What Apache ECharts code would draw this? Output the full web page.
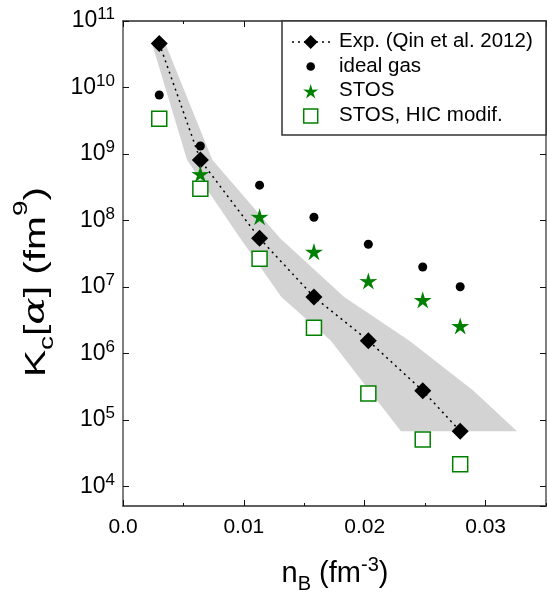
<!DOCTYPE html>
<html>
<head>
<meta charset="utf-8">
<script src="https://cdn.jsdelivr.net/npm/echarts@6/dist/echarts.min.js"></script>
<style>
  html, body { margin: 0; padding: 0; background: #fff; }
  #chart { width: 547px; height: 593px; }
</style>
</head>
<body>
<div id="chart"></div>
<script>
// Baryon density n_B (fm^-3) of each point
const nB = [0.0030, 0.0064, 0.0113, 0.0158, 0.0203, 0.0248, 0.0279];
// Chemical equilibrium constant K_c[alpha] (fm^9)
const kcExp = [4.6e10, 8.1e8, 5.4e7, 7.1e6, 1.56e6, 2.76e5, 6.8e4];
const kcIdeal = [7.7e9, 1.32e9, 3.4e8, 1.12e8, 4.4e7, 2.0e7, 1.01e7];
const nBStos = [0.0064, 0.0113, 0.0158, 0.0203, 0.0248, 0.0279];
const kcStos = [5.0e8, 1.14e8, 3.4e7, 1.23e7, 6.4e6, 2.6e6];
const kcStosHic = [3.4e9, 3.0e8, 2.67e7, 2.44e6, 2.5e5, 5.1e4, 2.16e4];
// Density uncertainty of the experimental points (band edges at each K_c level)
const bandLow = [0.0024, 0.0053, 0.0097, 0.0131, 0.0172, 0.0204, 0.0230];
const bandHigh = [0.0035, 0.0074, 0.0130, 0.0183, 0.0237, 0.0290, 0.0326];
// Axis ticks
const xTicksMajor = 0.01;
const xTicksMinor = 0.005;
const xMin = 0, xMax = 0.035;
const yMin = 5100, yMax = 1e11;

const FONT = 'Liberation Sans, Arial, sans-serif';
const GREEN = '#008000';

const zip = (xs, ys) => xs.map((x, i) => [x, ys[i]]);

// five-pointed star symbol
function starPath(R, r) {
  let d = '';
  for (let i = 0; i < 10; i++) {
    const rad = i % 2 === 0 ? R : r;
    const a = -Math.PI / 2 + i * Math.PI / 5;
    d += (i === 0 ? 'M' : 'L') + (rad * Math.cos(a)).toFixed(3) + ' ' + (rad * Math.sin(a)).toFixed(3) + ' ';
  }
  return d + 'Z';
}
const STAR = 'path://' + starPath(10, 3.6);

const chart = echarts.init(document.getElementById('chart'), null, { renderer: 'canvas' });

const frameLine = { show: true, onZero: false, lineStyle: { color: '#555', width: 1.5 } };

function xAxisDef(position, interval, tickLen, labels) {
  return {
    type: 'value', position: position, min: xMin, max: xMax, interval: interval,
    axisLine: frameLine,
    axisTick: { show: true, inside: true, length: tickLen, lineStyle: { color: '#111', width: 1 } },
    axisLabel: labels ? {
      show: true, showMaxLabel: false, margin: 11, color: '#000', fontSize: 21, fontFamily: FONT,
      formatter: v => (v === 0 ? '0.0' : v.toFixed(2))
    } : { show: false },
    splitLine: { show: false }
  };
}
function yAxisDef(position, labels) {
  return {
    type: 'log', logBase: 10, position: position, min: yMin, max: yMax,
    axisLine: frameLine,
    axisTick: { show: true, inside: true, length: 6, lineStyle: { color: '#111', width: 1 } },
    minorTick: { show: false },
    axisLabel: labels ? {
      show: true, showMinLabel: false, margin: 8, color: '#000', fontFamily: FONT,
      formatter: v => '{b|10}{s|' + Math.round(Math.log10(v)) + '}',
      rich: {
        b: { fontSize: 23, fontFamily: FONT, color: '#000', lineHeight: 30 },
        s: { fontSize: 17, fontFamily: FONT, color: '#000', lineHeight: 14, verticalAlign: 'top' }
      }
    } : { show: false },
    splitLine: { show: false }
  };
}

// legend drawn as a boxed key
const LX = 310.7, LY = [42, 66.5, 91, 116];
const legendText = ['Exp. (Qin et al. 2012)', 'ideal gas', 'STOS', 'STOS, HIC modif.'];
function starPoints(cx, cy, R, r) {
  const p = [];
  for (let i = 0; i < 10; i++) {
    const rad = i % 2 === 0 ? R : r;
    const a = -Math.PI / 2 + i * Math.PI / 5;
    p.push([cx + rad * Math.cos(a), cy + rad * Math.sin(a)]);
  }
  return p;
}
const legendGraphics = [
  { type: 'rect', z: 100, shape: { x: 282, y: 21, width: 264, height: 114 },
    style: { fill: '#fff', stroke: '#333', lineWidth: 1.5 } },
  { type: 'line', z: 101, shape: { x1: 292, y1: LY[0], x2: 330, y2: LY[0] },
    style: { stroke: '#000', lineWidth: 1.5, lineDash: [2, 4] } },
  { type: 'polygon', z: 102, shape: { points: [[LX, LY[0] - 7], [LX + 7, LY[0]], [LX, LY[0] + 7], [LX - 7, LY[0]]] },
    style: { fill: '#000' } },
  { type: 'circle', z: 102, shape: { cx: LX, cy: LY[1], r: 4.3 }, style: { fill: '#000' } },
  { type: 'polygon', z: 102, shape: { points: starPoints(LX, LY[2] + 1, 8, 2.9) }, style: { fill: GREEN } },
  { type: 'rect', z: 102, shape: { x: LX - 7, y: LY[3] - 7, width: 14, height: 14 },
    style: { fill: '#fff', stroke: GREEN, lineWidth: 1.5 } }
];
legendText.forEach((t, i) => legendGraphics.push({
  type: 'text', z: 102, x: 339, y: LY[i] - 11,
  style: { text: t, font: '20.5px ' + FONT, fill: '#000', textVerticalAlign: 'top' }
}));

const option = {
  animation: false,
  backgroundColor: '#fff',
  grid: { left: 123, top: 21, width: 423, height: 485, outerBoundsMode: 'none', containLabel: false },
  xAxis: [
    xAxisDef('bottom', xTicksMajor, 6, true),
    xAxisDef('bottom', xTicksMinor, 3, false),
    xAxisDef('top', xTicksMajor, 6, false),
    xAxisDef('top', xTicksMinor, 3, false)
  ],
  yAxis: [yAxisDef('left', true), yAxisDef('right', false)],
  series: [
    {
      name: 'band', type: 'custom', xAxisIndex: 0, yAxisIndex: 0, z: 1, silent: true,
      data: [[bandLow[0], kcExp[0]]],
      renderItem: (params, api) => {
        const pts = [];
        for (let i = 0; i < kcExp.length; i++) pts.push(api.coord([bandHigh[i], kcExp[i]]));
        for (let i = kcExp.length - 1; i >= 0; i--) pts.push(api.coord([bandLow[i], kcExp[i]]));
        return { type: 'polygon', shape: { points: pts }, style: { fill: '#d3d3d3', stroke: null } };
      }
    },
    {
      name: 'Exp. (Qin et al. 2012)', type: 'line', z: 3,
      data: zip(nB, kcExp),
      symbol: 'diamond', symbolSize: 17,
      lineStyle: { color: '#000', width: 1.5, type: [2, 4] },
      itemStyle: { color: '#000', opacity: 1 }
    },
    {
      name: 'ideal gas', type: 'scatter', z: 4,
      data: zip(nB, kcIdeal), symbol: 'circle', symbolSize: 9,
      itemStyle: { color: '#000', opacity: 1 }
    },
    {
      name: 'STOS', type: 'scatter', z: 5,
      data: zip(nBStos, kcStos), symbol: STAR, symbolSize: 18, symbolKeepAspect: true,
      itemStyle: { color: GREEN, opacity: 1 }
    },
    {
      name: 'STOS, HIC modif.', type: 'scatter', z: 6,
      data: zip(nB, kcStosHic), symbol: 'rect', symbolSize: 15,
      itemStyle: { color: '#fff', borderColor: GREEN, borderWidth: 1.5, opacity: 1 }
    }
  ],
  graphic: [
    ...legendGraphics,
    {
      type: 'text', x: 335, y: 555, z: 50,
      style: {
        text: '{n|n}{sub|B}{n| (fm}{sup|-3}{n|)}',
        textAlign: 'center', textVerticalAlign: 'top',
        rich: {
          n: { fontSize: 29, fontFamily: FONT, fill: '#000', lineHeight: 33, verticalAlign: 'bottom' },
          sub: { fontSize: 20, fontFamily: FONT, fill: '#000', lineHeight: 22, verticalAlign: 'bottom', padding: [0, 0, -6, 0] },
          sup: { fontSize: 20, fontFamily: FONT, fill: '#000', lineHeight: 20, verticalAlign: 'top' }
        }
      }
    },
    {
      type: 'text', z: 50, x: 31, y: 282, rotation: Math.PI / 2, scaleX: 1.4,
      style: {
        text: '{n|K}{sub|c}{n|[}{a|α}{n|] (fm}{sup|9}{n|)}',
        textAlign: 'center', textVerticalAlign: 'middle',
        rich: {
          n: { fontSize: 29, fontFamily: FONT, fill: '#000', lineHeight: 40, verticalAlign: 'bottom' },
          a: { fontSize: 29, fontFamily: 'DejaVu Serif, serif', fontStyle: 'italic', fill: '#000', lineHeight: 40, verticalAlign: 'bottom' },
          sub: { fontSize: 20, fontFamily: FONT, fill: '#000', lineHeight: 22, verticalAlign: 'bottom', padding: [0, 0, -6, 0] },
          sup: { fontSize: 20, fontFamily: FONT, fill: '#000', lineHeight: 20, verticalAlign: 'top' }
        }
      }
    }
  ]
};
chart.setOption(option);
</script>
</body>
</html>
